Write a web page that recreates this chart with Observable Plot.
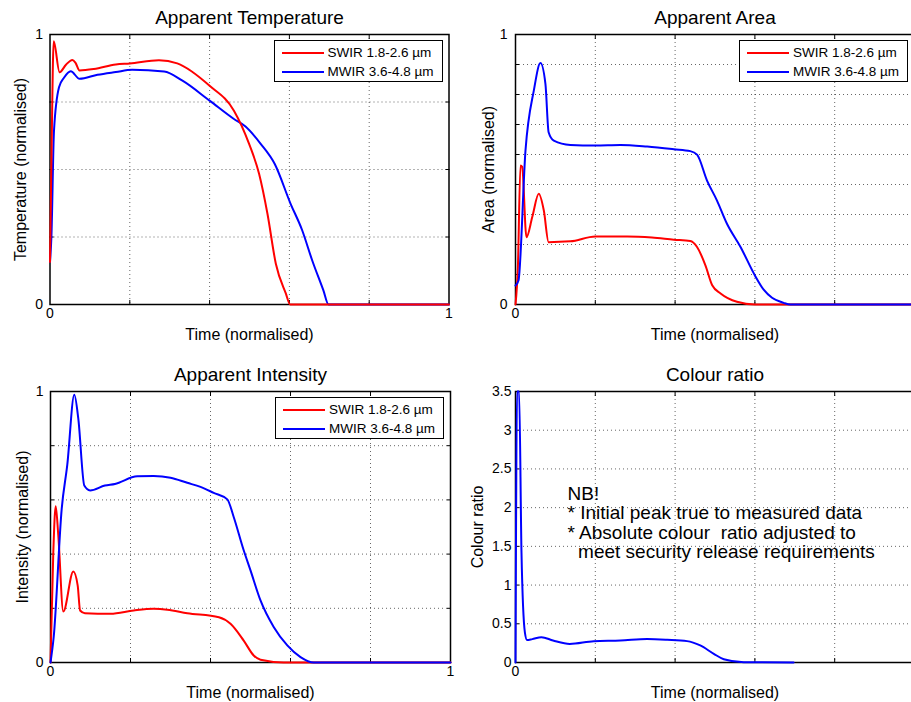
<!DOCTYPE html>
<html>
<head>
<meta charset="utf-8">
<script src="https://cdn.jsdelivr.net/npm/d3@7"></script>
<script src="https://cdn.jsdelivr.net/npm/@observablehq/plot@0.6"></script>
<style>
  html, body { margin: 0; padding: 0; background: white; }
  #root { position: relative; width: 911px; height: 702px; overflow: hidden; background: white; font-family: "Liberation Sans", Arial, sans-serif; }
  .panel { position: absolute; }
  .panel svg text { white-space: pre; }
  .legend { position: absolute; box-sizing: border-box; border: 1.5px solid #000; background: #fff; }
  .legend .row { position: absolute; left: 0; right: 0; height: 18px; }
  .legend .swatch { position: absolute; left: 7px; width: 42px; height: 2px; top: 8px; }
  .legend .lab { position: absolute; left: 53px; top: 0; font-size: 13.5px; line-height: 18px; color: #000; white-space: nowrap; }
</style>
</head>
<body>
<div id="root"></div>
<script>
// ---------- Data ----------
const seriesNames = ["SWIR", "MWIR"];
const seriesLabels = ["SWIR 1.8-2.6 \u00b5m", "MWIR 3.6-4.8 \u00b5m"];
const seriesColors = ["#ff0000", "#0000ff"];

// Apparent Temperature
const tempSwirT = [0, 0.004, 0.0093, 0.024, 0.040, 0.056, 0.064, 0.074, 0.110, 0.165, 0.2, 0.273, 0.319, 0.4, 0.461, 0.499, 0.524, 0.545, 0.566, 0.591, 0.602, 1];
const tempSwirV = [0.157, 0.58, 0.975, 0.86, 0.888, 0.906, 0.895, 0.867, 0.872, 0.889, 0.893, 0.905, 0.893, 0.81, 0.718, 0.595, 0.484, 0.336, 0.151, 0.041, 0, 0];
const tempMwirT = [0, 0.0035, 0.01, 0.0226, 0.035, 0.052, 0.074, 0.119, 0.165, 0.206, 0.286, 0.332, 0.4, 0.461, 0.490, 0.528, 0.563, 0.603, 0.632, 0.657, 0.685, 0.698, 1];
const tempMwirV = [0.157, 0.25, 0.644, 0.805, 0.84, 0.864, 0.836, 0.851, 0.861, 0.869, 0.863, 0.829, 0.755, 0.687, 0.659, 0.595, 0.521, 0.373, 0.275, 0.164, 0.053, 0, 0];

// Apparent Area
const areaSwirT = [0, 0.006, 0.0125, 0.0167, 0.0275, 0.042, 0.0583, 0.071, 0.083, 0.1375, 0.2, 0.28, 0.342, 0.397, 0.438, 0.455, 0.476, 0.493, 0.514, 0.555, 0.6, 1];
const areaSwirV = [0, 0.14, 0.515, 0.51, 0.249, 0.324, 0.41, 0.348, 0.231, 0.234, 0.252, 0.252, 0.248, 0.240, 0.235, 0.213, 0.145, 0.071, 0.041, 0.010, 0, 0];
const areaMwirT = [0, 0.0075, 0.025, 0.046, 0.0625, 0.075, 0.083, 0.096, 0.1375, 0.2, 0.263, 0.33, 0.397, 0.438, 0.455, 0.48, 0.505, 0.53, 0.564, 0.601, 0.622, 0.643, 0.672, 0.689, 1];
const areaMwirV = [0.07, 0.089, 0.57, 0.793, 0.894, 0.817, 0.638, 0.607, 0.591, 0.589, 0.591, 0.585, 0.575, 0.568, 0.555, 0.459, 0.385, 0.299, 0.213, 0.105, 0.055, 0.025, 0.006, 0, 0];

// Apparent Intensity
const intSwirT = [0, 0.007, 0.013, 0.0195, 0.032, 0.057, 0.068, 0.074, 0.086, 0.15, 0.208, 0.258, 0.292, 0.342, 0.421, 0.45, 0.483, 0.508, 0.525, 0.583, 1];
const intSwirV = [0, 0.407, 0.577, 0.469, 0.188, 0.336, 0.284, 0.192, 0.182, 0.180, 0.192, 0.198, 0.195, 0.182, 0.167, 0.143, 0.081, 0.026, 0.010, 0, 0];
const intMwirT = [0, 0.008, 0.028, 0.042, 0.0595, 0.0695, 0.0845, 0.099, 0.136, 0.161, 0.217, 0.258, 0.3, 0.342, 0.375, 0.408, 0.442, 0.458, 0.483, 0.5, 0.525, 0.558, 0.592, 0.625, 0.658, 1];
const intMwirV = [0, 0.094, 0.567, 0.73, 0.988, 0.90, 0.653, 0.635, 0.653, 0.659, 0.687, 0.688, 0.682, 0.663, 0.648, 0.626, 0.602, 0.537, 0.414, 0.340, 0.229, 0.131, 0.063, 0.020, 0, 0];

// Colour ratio
const ratioT = [0, 0.004, 0.009, 0.015, 0.0235, 0.029, 0.042, 0.065, 0.094, 0.136, 0.196, 0.263, 0.33, 0.38, 0.43, 0.463, 0.497, 0.522, 0.572, 0.697];
const ratioV = [0, 3.5, 3.5, 1.42, 0.39, 0.29, 0.302, 0.327, 0.284, 0.24, 0.276, 0.284, 0.302, 0.293, 0.276, 0.22, 0.112, 0.043, 0.004, 0];

// Ticks / grid
const gridXTicks = [0.2, 0.4, 0.6, 0.8];
const tempGridY = [0.25, 0.5, 0.75];
const areaGridY = [1, 2, 3, 4, 5, 6, 7, 8].map(k => k / 9);
const intGridY = [0.2, 0.4, 0.6, 0.8];
const ratioGridY = [0.5, 1, 1.5, 2, 2.5, 3];
const unitTickLabels = [0, 1];
const zeroTickLabel = [0];
const ratioTickLabels = [0, 0.5, 1, 1.5, 2, 2.5, 3, 3.5];

const titles = ["Apparent Temperature", "Apparent Area", "Apparent Intensity", "Colour ratio"];
const yLabels = ["Temperature (normalised)", "Area (normalised)", "Intensity (normalised)", "Colour ratio"];
const xLabel = "Time (normalised)";
const note = "NB!\n* Initial peak true to measured data\n* Absolute colour  ratio adjusted to\n  meet security release requirements";

// ---------- Helpers ----------
const FONT = '"Liberation Sans", Arial, sans-serif';
function rows(name, ts, vs) { return ts.map((t, i) => ({series: name, t, v: vs[i]})); }

function panel(cfg) {
  const gridStyle = {stroke: "#000", strokeOpacity: 0.6, strokeWidth: 1, strokeDasharray: "1,3"};
  const marks = [
    Plot.gridX(gridXTicks, gridStyle),
    Plot.gridY(cfg.gridY, gridStyle),
    Plot.axisX(gridXTicks, {anchor: "bottom", tickSize: -4, tickFormat: () => "", label: null}),
    Plot.axisX(gridXTicks, {anchor: "top", tickSize: -4, tickFormat: () => "", label: null}),
    Plot.axisY(cfg.gridY, {anchor: "left", tickSize: -4, tickFormat: () => "", label: null}),
    Plot.axisY(cfg.gridY, {anchor: "right", tickSize: -4, tickFormat: () => "", label: null}),
    Plot.axisX(cfg.xTicks, {anchor: "bottom", tickSize: 0, tickPadding: 4, label: null, fontSize: 14, tickFormat: d => String(d)}),
    Plot.axisY(cfg.yTicks, {anchor: "left", tickSize: 0, tickPadding: cfg.yPad, label: null, fontSize: 14, tickFormat: d => String(d)}),
    Plot.frame({stroke: "#000", strokeWidth: 1.5}),
    Plot.line(cfg.data, {x: "t", y: "v", z: "series", stroke: "series", strokeWidth: 2, curve: "monotone-x"}),
    Plot.text([cfg.title], {frameAnchor: "top", dy: -17, fontSize: 19, textAnchor: "middle", lineAnchor: "middle"}),
    Plot.text([xLabel], {frameAnchor: "bottom", dy: 30, fontSize: 16, textAnchor: "middle", lineAnchor: "middle"}),
    Plot.text([cfg.ylabel], {frameAnchor: "left", dx: cfg.ylabelDx, rotate: -90, fontSize: 16, textAnchor: "middle", lineAnchor: "middle"})
  ];
  if (cfg.extra) marks.push(...cfg.extra);
  const svg = Plot.plot({
    width: cfg.width, height: cfg.height,
    marginLeft: cfg.ml, marginRight: cfg.mr, marginTop: cfg.mt, marginBottom: cfg.mb,
    x: {domain: [0, 1]},
    y: {domain: cfg.yDomain},
    color: {domain: seriesNames, range: seriesColors},
    style: {fontFamily: FONT, fontSize: "14px", color: "#000", background: "transparent"},
    marks
  });
  const div = document.createElement("div");
  div.className = "panel";
  div.style.left = cfg.left + "px";
  div.style.top = cfg.top + "px";
  div.style.width = cfg.width + "px";
  div.style.height = cfg.height + "px";
  div.appendChild(svg);
  root.appendChild(div);

  if (cfg.legend) {
    const lg = document.createElement("div");
    lg.className = "legend";
    const right = cfg.left + cfg.width - cfg.mr - 6;
    lg.style.left = (right - 169) + "px";
    lg.style.top = (cfg.top + cfg.mt + 6) + "px";
    lg.style.width = "169px";
    lg.style.height = "42px";
    seriesLabels.forEach((lab, i) => {
      const r = document.createElement("div");
      r.className = "row";
      r.style.top = (2.5 + i * 19) + "px";
      const sw = document.createElement("div");
      sw.className = "swatch";
      sw.style.background = seriesColors[i];
      const tx = document.createElement("div");
      tx.className = "lab";
      tx.textContent = lab;
      r.appendChild(sw); r.appendChild(tx);
      lg.appendChild(r);
    });
    root.appendChild(lg);
  }
}

const root = document.getElementById("root");

// Apparent Temperature (red drawn on top)
panel({
  left: 0, top: 0, width: 460, height: 350, ml: 49.5, mr: 11.5, mt: 34, mb: 46,
  data: [...rows("MWIR", tempMwirT, tempMwirV), ...rows("SWIR", tempSwirT, tempSwirV)],
  yDomain: [0, 1], gridY: tempGridY, xTicks: unitTickLabels, yTicks: unitTickLabels, yPad: 7,
  title: titles[0], ylabel: yLabels[0], ylabelDx: -29.5, legend: true
});

// Apparent Area
panel({
  left: 460, top: 0, width: 460, height: 350, ml: 55, mr: 6, mt: 34, mb: 46,
  data: [...rows("SWIR", areaSwirT, areaSwirV), ...rows("MWIR", areaMwirT, areaMwirV)],
  yDomain: [0, 1], gridY: areaGridY, xTicks: zeroTickLabel, yTicks: unitTickLabels, yPad: 8,
  title: titles[1], ylabel: yLabels[1], ylabelDx: -27, legend: true
});

// Apparent Intensity
panel({
  left: 0, top: 350, width: 460, height: 352, ml: 50, mr: 10, mt: 41, mb: 40,
  data: [...rows("SWIR", intSwirT, intSwirV), ...rows("MWIR", intMwirT, intMwirV)],
  yDomain: [0, 1], gridY: intGridY, xTicks: unitTickLabels, yTicks: unitTickLabels, yPad: 7,
  title: titles[2], ylabel: yLabels[2], ylabelDx: -28, legend: true
});

// Colour ratio
panel({
  left: 460, top: 350, width: 460, height: 352, ml: 55, mr: 6, mt: 41, mb: 40,
  data: rows("MWIR", ratioT, ratioV),
  yDomain: [0, 3.5], gridY: ratioGridY, xTicks: zeroTickLabel, yTicks: ratioTickLabels, yPad: 4,
  title: titles[3], ylabel: yLabels[3], ylabelDx: -38, legend: false,
  extra: [Plot.text([note], {frameAnchor: "top-left", dx: 52, dy: 95, textAnchor: "start", lineAnchor: "top", fontSize: 19, lineHeight: 1.01})]
});
</script>
</body>
</html>
